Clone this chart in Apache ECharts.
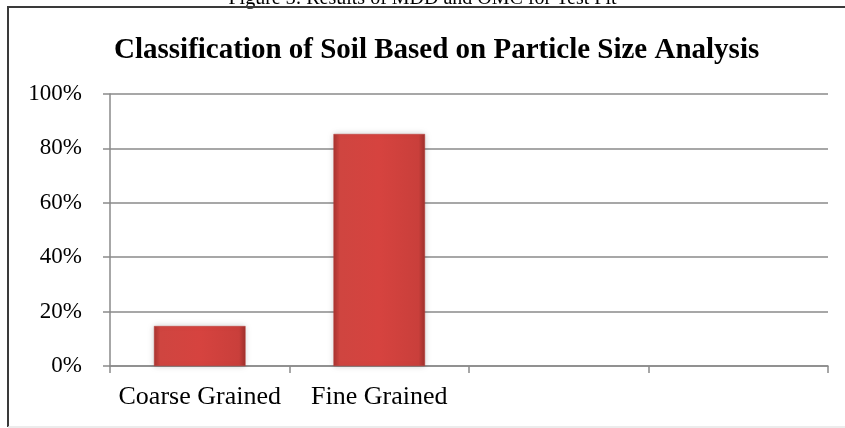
<!DOCTYPE html>
<html>
<head>
<meta charset="utf-8">
<script src="https://cdn.jsdelivr.net/npm/echarts@6/dist/echarts.min.js"></script>
<style>
  html, body { margin: 0; padding: 0; background: #fff; }
  #chart { width: 845px; height: 428px; }
</style>
</head>
<body>
<div id="chart"></div>
<script>
// data
const categories = ['Coarse Grained', 'Fine Grained', '', '']
const percentValues = [14.7, 85.3, null, null]
const yTicks = [0, 20, 40, 60, 80, 100]

const serif = '"Liberation Serif", "DejaVu Serif", serif'
const axisGray = '#8a8a8a'

let myChart = echarts.init(document.getElementById('chart'))
myChart.setOption({
  animation: false,
  backgroundColor: '#fff',
  title: {
    text: 'Classification of Soil Based on Particle Size Analysis',
    left: 109,
    top: 31,
    textStyle: {
      fontFamily: serif,
      fontWeight: 'bold',
      fontSize: 29,
      color: '#000'
    }
  },
  graphic: [
    {
      // caption of the page above the chart, cut off at the top
      type: 'text',
      left: 'center',
      top: -11,
      style: {
        text: 'Figure 3: Results of MDD and OMC for Test Pit',
        font: '20px ' + serif,
        fill: '#000'
      }
    },
    {
      // frame round the chart
      type: 'polyline',
      shape: { points: [[845, 7], [8, 7], [8, 427]] },
      style: { stroke: '#3a3a3a', lineWidth: 2, fill: null }
    },
    {
      type: 'line',
      shape: { x1: 8, y1: 427, x2: 845, y2: 427 },
      style: { stroke: '#e6e6e6', lineWidth: 1.5 }
    }
  ],
  grid: {
    left: 110,
    right: 17,
    top: 94,
    bottom: 62
  },
  xAxis: {
    type: 'category',
    data: categories,
    boundaryGap: true,
    axisLine: { lineStyle: { color: axisGray, width: 1.5 } },
    axisTick: { show: true, length: 7, interval: 0, lineStyle: { color: axisGray, width: 1.5 } },
    axisLabel: {
      interval: 0,
      margin: 18,
      color: '#000',
      fontFamily: serif,
      fontSize: 26
    }
  },
  yAxis: {
    type: 'value',
    min: yTicks[0],
    max: yTicks[yTicks.length - 1],
    interval: 20,
    axisLine: { show: true, lineStyle: { color: axisGray, width: 1.5 } },
    axisTick: { show: true, length: 7, lineStyle: { color: axisGray, width: 1.5 } },
    splitLine: { lineStyle: { color: axisGray, width: 1.5 } },
    axisLabel: {
      formatter: '{value}%',
      margin: 28,
      color: '#000',
      fontFamily: serif,
      fontSize: 23
    }
  },
  series: [
    {
      name: 'Percent',
      type: 'bar',
      data: percentValues,
      barWidth: '51%',
      itemStyle: {
        color: new echarts.graphic.LinearGradient(0, 0, 1, 0, [
          { offset: 0, color: '#a9332f' },
          { offset: 0.07, color: '#cf4540' },
          { offset: 0.5, color: '#d6433f' },
          { offset: 0.93, color: '#c93f3b' },
          { offset: 1, color: '#9e302c' }
        ]),
        borderColor: '#b83a36',
        borderWidth: 0.5,
        shadowColor: 'rgba(0,0,0,0.18)',
        shadowBlur: 6
      }
    }
  ]
})
</script>
</body>
</html>
